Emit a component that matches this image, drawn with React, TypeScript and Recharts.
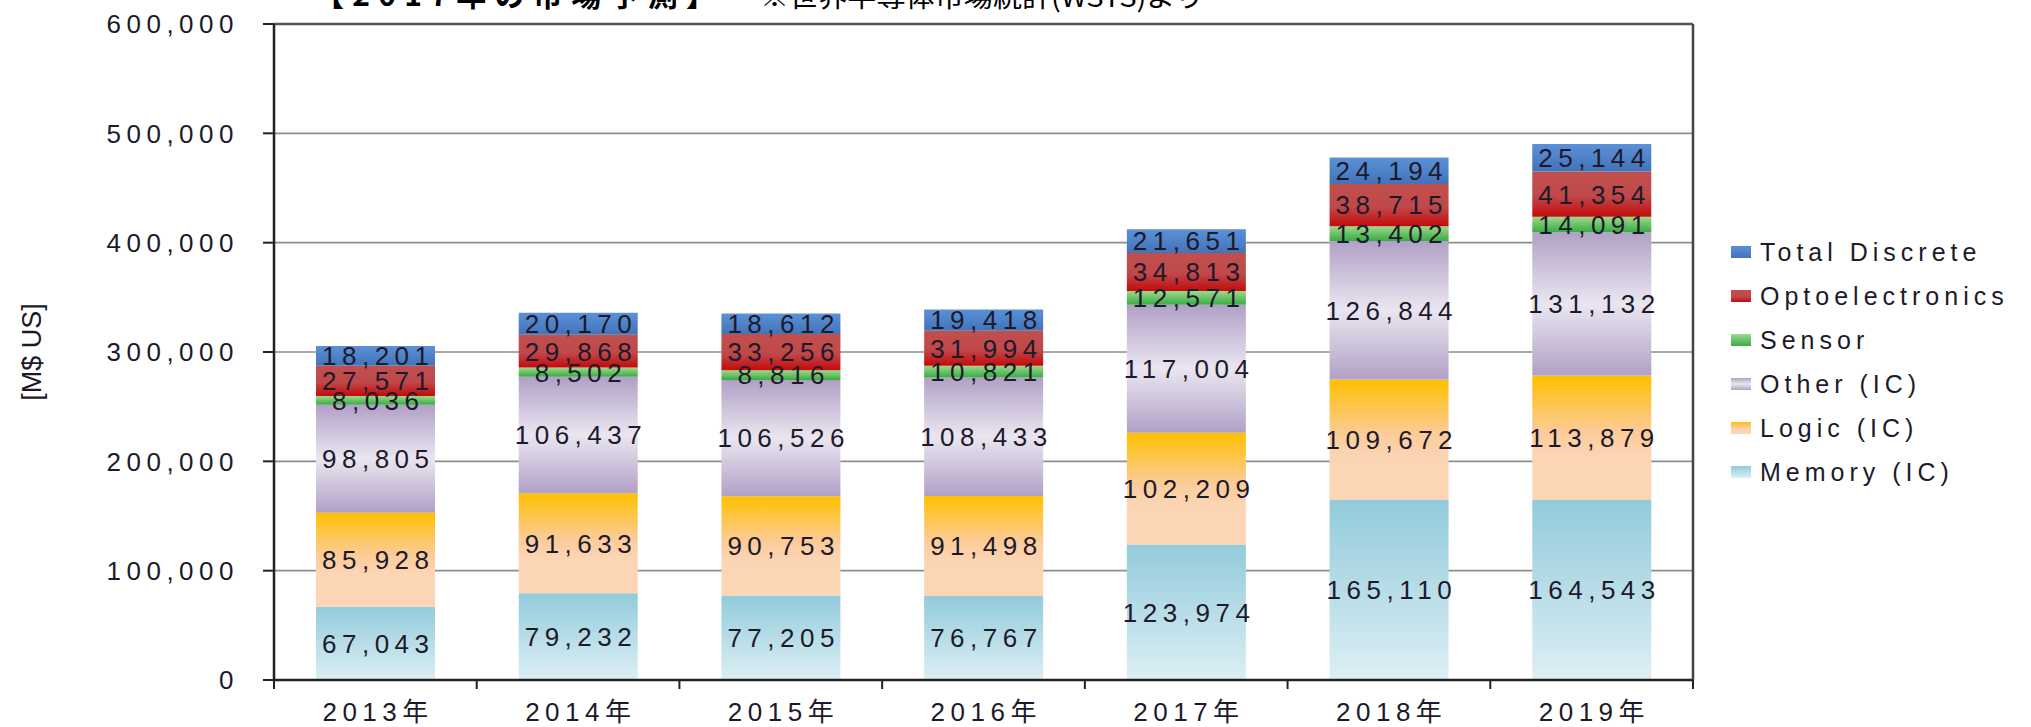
import React from "react";
import { BarChart, Bar, XAxis, YAxis, CartesianGrid, LabelList } from "recharts";

const years = ["2013年", "2014年", "2015年", "2016年", "2017年", "2018年", "2019年"];
const memory = [67043, 79232, 77205, 76767, 123974, 165110, 164543];
const logic = [85928, 91633, 90753, 91498, 102209, 109672, 113879];
const other = [98805, 106437, 106526, 108433, 117004, 126844, 131132];
const sensor = [8036, 8502, 8816, 10821, 12571, 13402, 14091];
const opto = [27571, 29868, 33256, 31994, 34813, 38715, 41354];
const discrete = [18201, 20170, 18612, 19418, 21651, 24194, 25144];
const yTicks = [0, 100000, 200000, 300000, 400000, 500000, 600000];

const series = [
  { key: "memory", name: "Memory (IC)", grad: "gMemory" },
  { key: "logic", name: "Logic (IC)", grad: "gLogic" },
  { key: "other", name: "Other (IC)", grad: "gOther" },
  { key: "sensor", name: "Sensor", grad: "gSensor" },
  { key: "opto", name: "Optoelectronics", grad: "gOpto" },
  { key: "discrete", name: "Total Discrete", grad: "gDiscrete" },
];

const data = years.map((y, i) => ({
  year: y,
  memory: memory[i],
  logic: logic[i],
  other: other[i],
  sensor: sensor[i],
  opto: opto[i],
  discrete: discrete[i],
}));

const FONT = '"Liberation Sans", Arial, "Noto Sans CJK JP", sans-serif';
const SPACING = 5.5;
const TEXT = "#1c1a2a";

const fmt = (v: number) => v.toLocaleString("en-US");

const YTick = (props: any) => {
  const { x, y, payload } = props;
  return (
    <text x={x} y={y} dy="0.36em" textAnchor="end" fontFamily={FONT} fontSize={26}
      fill={TEXT} style={{ letterSpacing: SPACING }}>
      {fmt(payload.value)}
    </text>
  );
};

// category label plus the tick marks that sit between categories
const XTick = (props: any) => {
  const { x, y, payload, index } = props;
  const half = payload.offset ?? 0;
  const last = index === years.length - 1;
  return (
    <g>
      <line x1={x - half} x2={x - half} y1={y} y2={y + 9} stroke="#222" strokeWidth={2} />
      {last && <line x1={x + half} x2={x + half} y1={y} y2={y + 9} stroke="#222" strokeWidth={2} />}
      <text x={x + SPACING / 2} y={y + 41} textAnchor="middle" fontFamily={FONT} fontSize={26}
        fill={TEXT} style={{ letterSpacing: SPACING }}>
        {payload.value}
      </text>
    </g>
  );
};

const SegLabel = (props: any) => {
  const { x, y, width, height, value } = props;
  return (
    <text x={x + width / 2 + SPACING / 2} y={y + height / 2} dy="0.36em" textAnchor="middle"
      fontFamily={FONT} fontSize={26} fill={TEXT} style={{ letterSpacing: SPACING }}>
      {fmt(value)}
    </text>
  );
};

export default function App() {
  return (
    <div style={{ position: "fixed", left: 0, top: 0, width: 2031, height: 727, overflow: "hidden", background: "#fff" }}>
      <BarChart width={2031} height={727} data={data}
        margin={{ top: 23, right: 337, bottom: 46, left: 0 }}>
        <defs>
          <linearGradient id="gMemory" x1="0" y1="0" x2="0" y2="1">
            <stop offset="0%" stopColor="#92CBDB" />
            <stop offset="100%" stopColor="#DDEFF4" />
          </linearGradient>
          <linearGradient id="gLogic" x1="0" y1="0" x2="0" y2="1">
            <stop offset="0%" stopColor="#FFC000" />
            <stop offset="45%" stopColor="#FCCB98" />
            <stop offset="65%" stopColor="#FCD5B4" />
            <stop offset="100%" stopColor="#FCD5B4" />
          </linearGradient>
          <linearGradient id="gOther" x1="0" y1="0" x2="0" y2="1">
            <stop offset="0%" stopColor="#B1A0C6" />
            <stop offset="50%" stopColor="#EAE6F0" />
            <stop offset="100%" stopColor="#B1A0C6" />
          </linearGradient>
          <linearGradient id="gSensor" x1="0" y1="0" x2="0" y2="1">
            <stop offset="0%" stopColor="#9ED88C" />
            <stop offset="100%" stopColor="#38AC44" />
          </linearGradient>
          <linearGradient id="gOpto" x1="0" y1="0" x2="0" y2="1">
            <stop offset="0%" stopColor="#C0504D" />
            <stop offset="55%" stopColor="#C0484A" />
            <stop offset="100%" stopColor="#C40A0A" />
          </linearGradient>
          <linearGradient id="gDiscrete" x1="0" y1="0" x2="0" y2="1">
            <stop offset="0%" stopColor="#5B91D9" />
            <stop offset="100%" stopColor="#4373B8" />
          </linearGradient>
        </defs>
        <CartesianGrid vertical={false} stroke="#8e8e8e" strokeWidth={1.6} />
        <XAxis dataKey="year" height={1} tickSize={0} tickMargin={0} tickLine={false}
          axisLine={{ stroke: "#222", strokeWidth: 2.5 }} tick={<XTick />} interval={0} />
        <XAxis xAxisId="top" orientation="top" type="number" domain={[0, 7]} height={1}
          tick={false} tickLine={false} axisLine={{ stroke: "#555", strokeWidth: 2.5 }} />
        <YAxis width={274} domain={[0, 600000]} ticks={yTicks} interval={0} tickSize={11}
          tickMargin={24} tick={<YTick />} tickLine={{ stroke: "#222", strokeWidth: 2 }}
          axisLine={{ stroke: "#222", strokeWidth: 2.5 }} />
        <YAxis yAxisId="r" orientation="right" width={1} domain={[0, 600000]} tick={false}
          tickLine={false} axisLine={{ stroke: "#444", strokeWidth: 2.5 }} />
        {series.map((s) => (
          <Bar key={s.key} dataKey={s.key} name={s.name} stackId="a" barSize={119}
            fill={`url(#${s.grad})`} isAnimationActive={false}>
            <LabelList dataKey={s.key} content={<SegLabel />} />
          </Bar>
        ))}
      </BarChart>

      <svg width={2031} height={727} style={{ position: "absolute", left: 0, top: 0, pointerEvents: "none" }}>
        <text x={314} y={6} fontFamily={'"Noto Sans CJK JP", sans-serif'} fontWeight={700} fontSize={30}
          fill="#000" textLength={402} lengthAdjust="spacing">【2017年の市場予測】</text>
        <text x={760} y={7} fontFamily={'"Noto Sans CJK JP", sans-serif'} fontSize={27}
          fill="#000" textLength={444} lengthAdjust="spacingAndGlyphs">※世界半導体市場統計(WSTS)より</text>
        <text transform="translate(41,352) rotate(-90)" textAnchor="middle" fontFamily={FONT}
          fontSize={27} fill={TEXT}>[M$ US]</text>
      </svg>

      <div style={{ position: "absolute", left: 1731, top: 230, fontFamily: FONT, fontSize: 25, color: TEXT }}>
        {[...series].reverse().map((s) => (
          <div key={s.key} style={{ display: "flex", alignItems: "center", height: 44, letterSpacing: 5 }}>
            <svg width={20} height={12} style={{ marginRight: 9 }}>
              <rect width={20} height={12} fill={`url(#${s.grad})`} />
            </svg>
            <span>{s.name}</span>
          </div>
        ))}
      </div>
    </div>
  );
}
